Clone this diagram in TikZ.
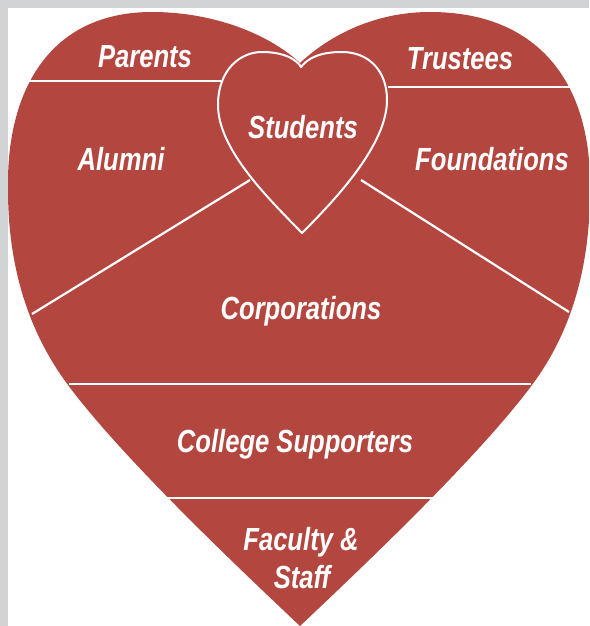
\documentclass[tikz,border=0pt]{standalone}
\usepackage{fontspec}
\usepackage{xcolor}
\newfontfamily\lblfont{Liberation Sans}[FakeStretch=0.8]
\definecolor{heartred}{RGB}{180,70,64}
\definecolor{framegray}{RGB}{209,211,212}
\usetikzlibrary{positioning}
\tikzset{
    lbl/.style={text=white, anchor=base, inner sep=0pt,
        font=\lblfont\bfseries\itshape\fontsize{32}{38}\selectfont},
    divider/.style={draw=white, line width=2.2pt},
}

\begin{document}
\begin{tikzpicture}[x=1pt,y=-1pt]
    \useasboundingbox (0,0) rectangle (589,626);
    \begin{scope}
        \clip (0,0) rectangle (589,626);

        % Big heart
        \fill [heartred] (300,626)
            .. controls (230,560) and (120,455) .. (68,385)
            .. controls (30,334) and (8,270) .. (8,190)
            .. controls (6,90) and (50,12) .. (152,12)
            .. controls (215,12) and (270,35) .. (300,63)
            .. controls (330,35) and (375,12) .. (430,12)
            .. controls (540,12) and (592,85) .. (590,190)
            .. controls (590,270) and (570,334) .. (532,385)
            .. controls (480,455) and (370,560) .. (300,626)
            -- cycle;

        % Frame
        \fill [framegray] (0,0) rectangle (8,626);
        \fill [framegray] (0,0) rectangle (589,8);
    \end{scope}

    % Dividing lines
    \draw [divider] (29,81) -- (221,81);
    \draw [divider] (388,87) -- (574,87);
    \draw [divider] (250,180) -- (32,314);
    \draw [divider] (361,180) -- (569,312);
    \draw [divider] (69,384) -- (531,384);
    \draw [divider] (167,498) -- (434,498);

    % Small heart
    \draw [white, line width=2pt, line join=round] (302,233)
        .. controls (270,200) and (218,150) .. (218,105)
        .. controls (218,70) and (240,52) .. (262,52)
        .. controls (285,52) and (297,60) .. (301,67)
        .. controls (308,58) and (320,52) .. (342,52)
        .. controls (368,52) and (387,70) .. (387,100)
        .. controls (387,145) and (335,200) .. (302,233)
        -- cycle;

    % Labels
    \node [lbl] (parents) at (145,67) {Parents};
    \node [lbl] (trustees) at (460,70) {Trustees};
    \node [lbl] (students) at (303,138) {Students};
    \node [lbl] (alumni) at (121,170) {Alumni};
    \node [lbl] (foundations) at (492,170) {Foundations};
    \node [lbl] (corporations) at (301,319) {Corporations};
    \node [lbl] (supporters) at (295,452) {College Supporters};
    \node [lbl] (faculty) at (301,550) {Faculty \&};
    \node [lbl] (staff) at (302,588) {Staff};
\end{tikzpicture}
\end{document}
